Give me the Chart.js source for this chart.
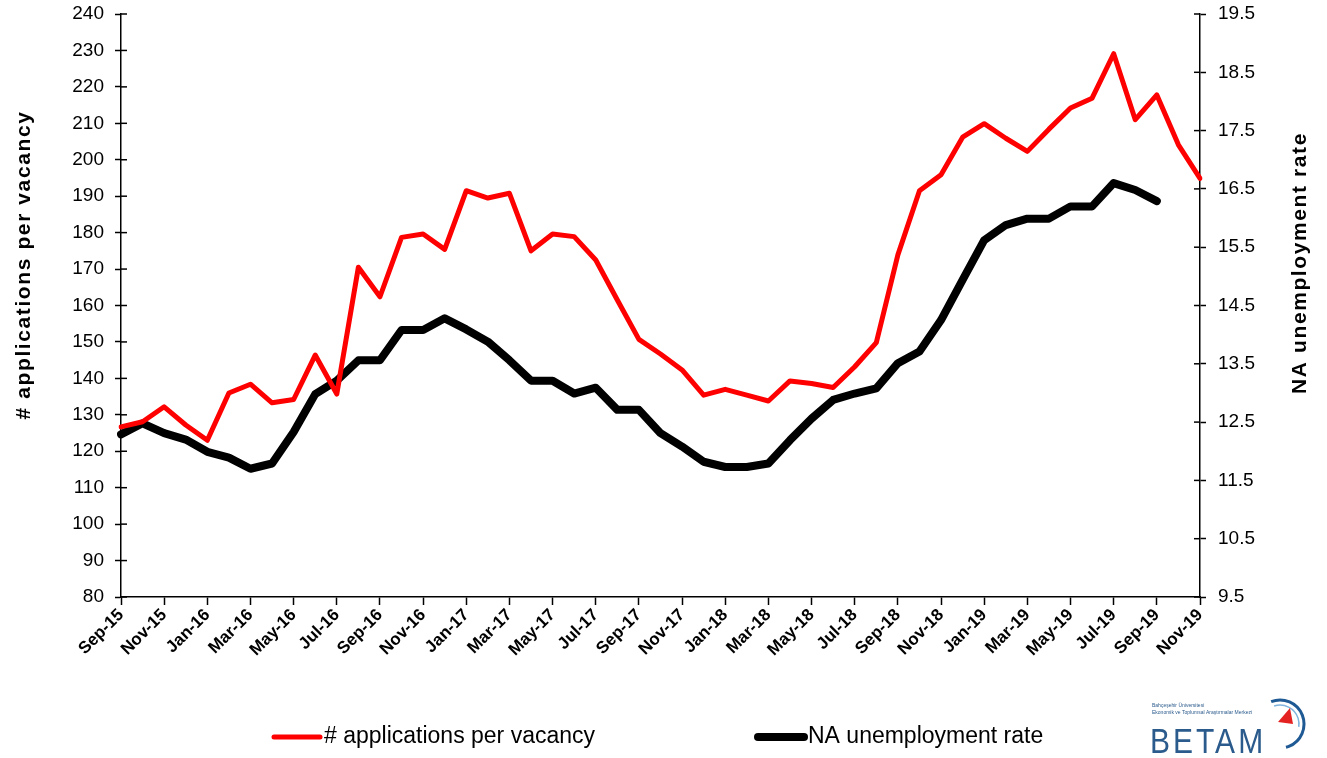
<!DOCTYPE html>
<html>
<head>
<meta charset="utf-8">
<script src="https://cdn.jsdelivr.net/npm/chart.js@4.4.0/dist/chart.umd.min.js"></script>
<style>
    html, body { margin: 0; padding: 0; background: #fff; }
    canvas { display: block; }
</style>
</head>
<body>
<canvas id="chart" width="1327" height="758"></canvas>
<script>
// Applications per vacancy vs NA unemployment rate, Sep-15 .. Nov-19

const months = [
    'Sep-15', 'Oct-15', 'Nov-15', 'Dec-15',
    'Jan-16', 'Feb-16', 'Mar-16', 'Apr-16', 'May-16', 'Jun-16', 'Jul-16', 'Aug-16', 'Sep-16', 'Oct-16', 'Nov-16', 'Dec-16',
    'Jan-17', 'Feb-17', 'Mar-17', 'Apr-17', 'May-17', 'Jun-17', 'Jul-17', 'Aug-17', 'Sep-17', 'Oct-17', 'Nov-17', 'Dec-17',
    'Jan-18', 'Feb-18', 'Mar-18', 'Apr-18', 'May-18', 'Jun-18', 'Jul-18', 'Aug-18', 'Sep-18', 'Oct-18', 'Nov-18', 'Dec-18',
    'Jan-19', 'Feb-19', 'Mar-19', 'Apr-19', 'May-19', 'Jun-19', 'Jul-19', 'Aug-19', 'Sep-19', 'Oct-19', 'Nov-19'
];

const applications = [
    126.7, 128.1, 132.2, 127.2, 123.0, 136.0, 138.4, 133.3, 134.2, 146.4,
    135.7, 170.5, 162.4, 178.7, 179.6, 175.4, 191.5, 189.5, 190.8, 175.0,
    179.6, 178.9, 172.5, 161.5, 150.7, 146.7, 142.3, 135.4, 137.0, 135.4,
    133.8, 139.3, 138.6, 137.5, 143.2, 149.8, 173.9, 191.5, 195.9, 206.2,
    209.9, 205.9, 202.3, 208.4, 214.2, 216.9, 229.1, 211.0, 217.8, 204.1,
    194.9
];

const unemployment = [
    12.29, 12.48, 12.31, 12.2, 11.99, 11.89, 11.7, 11.79, 12.33, 12.98,
    13.21, 13.56, 13.56, 14.08, 14.08, 14.28, 14.09, 13.88, 13.56, 13.21,
    13.21, 12.99, 13.09, 12.71, 12.71, 12.31, 12.08, 11.82, 11.73, 11.73,
    11.79, 12.19, 12.56, 12.88, 12.99, 13.08, 13.51, 13.71, 14.25, 14.94,
    15.62, 15.88, 15.99, 15.99, 16.2, 16.2, 16.6, 16.48, 16.29, null,
    null
];

const seriesNames = ['# applications per vacancy', 'NA unemployment rate'];
const leftTitle = '# applications per vacancy';
const rightTitle = 'NA unemployment rate';

const FONT = "'Liberation Sans', Arial, sans-serif";

// extra drawing: inner tick marks, axis titles, legend, logo
const extrasPlugin = {
    id: 'extras',
    afterDraw(chart) {
        const ctx = chart.ctx;
        const yL = chart.scales.y;
        const yR = chart.scales.y1;
        const area = chart.chartArea;

        ctx.save();
        ctx.strokeStyle = '#000';
        ctx.lineWidth = 1.5;
        yL.ticks.forEach(t => {
            const py = yL.getPixelForValue(t.value);
            ctx.beginPath();
            ctx.moveTo(area.left, py);
            ctx.lineTo(area.left + 6, py);
            ctx.stroke();
        });
        yR.ticks.forEach(t => {
            const py = yR.getPixelForValue(t.value);
            ctx.beginPath();
            ctx.moveTo(area.right - 6, py);
            ctx.lineTo(area.right, py);
            ctx.stroke();
        });

        // axis titles, both reading bottom to top
        ctx.fillStyle = '#000';
        ctx.font = 'bold 21px ' + FONT;
        ctx.letterSpacing = '1.6px';
        ctx.textAlign = 'center';
        ctx.textBaseline = 'middle';
        ctx.save();
        ctx.translate(24, 265);
        ctx.rotate(-Math.PI / 2);
        ctx.fillText(leftTitle, 0, 0);
        ctx.restore();
        ctx.save();
        ctx.translate(1300, 263);
        ctx.rotate(-Math.PI / 2);
        ctx.fillText(rightTitle, 0, 0);
        ctx.restore();
        ctx.letterSpacing = '0px';

        // legend
        const legendY = 737;
        const items = [
            { x: 271, color: '#ff0000', width: 5, text: seriesNames[0] },
            { x: 755, color: '#000000', width: 8, text: seriesNames[1] }
        ];
        items.forEach(item => {
            ctx.strokeStyle = item.color;
            ctx.lineWidth = item.width;
            ctx.lineCap = 'round';
            ctx.beginPath();
            ctx.moveTo(item.x + 3, legendY);
            ctx.lineTo(item.x + 49, legendY);
            ctx.stroke();
            ctx.fillStyle = '#000';
            ctx.font = '23px ' + FONT;
            ctx.textAlign = 'left';
            ctx.textBaseline = 'middle';
            ctx.fillText(item.text, item.x + 53, legendY);
        });

        // BETAM logo
        ctx.fillStyle = '#2b5b8c';
        ctx.font = '5px ' + FONT;
        ctx.textAlign = 'left';
        ctx.textBaseline = 'alphabetic';
        ctx.fillText('Bahçeşehir Üniversitesi', 1152, 707);
        ctx.fillText('Ekonomik ve Toplumsal Araştırmalar Merkezi', 1152, 714);
        ctx.save();
        ctx.translate(1150, 753);
        ctx.scale(1.0, 1.15);
        ctx.font = '30px ' + FONT;
        ctx.letterSpacing = '3px';
        ctx.fillText('BETAM', 0, 0);
        ctx.restore();
        ctx.lineCap = 'butt';
        ctx.strokeStyle = '#1f5a94';
        ctx.lineWidth = 3;
        ctx.beginPath();
        ctx.arc(1280, 724, 24, -Math.PI * 0.62, Math.PI * 0.42);
        ctx.stroke();
        ctx.strokeStyle = '#7fb3dd';
        ctx.lineWidth = 1.5;
        ctx.beginPath();
        ctx.arc(1280, 724, 19, -Math.PI * 0.6, Math.PI * 0.05);
        ctx.stroke();
        ctx.fillStyle = '#e52222';
        ctx.beginPath();
        ctx.moveTo(1278, 722);
        ctx.lineTo(1290, 708);
        ctx.lineTo(1293, 724);
        ctx.closePath();
        ctx.fill();
        ctx.restore();
    }
};

function fitVertical(width) {
    return function(scale) {
        scale.width = width;
        scale.paddingTop = 0;
        scale.paddingBottom = 0;
    };
}

function createChart() {
    const ctx = document.getElementById('chart').getContext('2d');
    return new Chart(ctx, {
        type: 'line',
        data: {
            labels: months,
            datasets: [{
                label: seriesNames[0],
                data: applications,
                yAxisID: 'y',
                borderColor: '#ff0000',
                borderWidth: 5,
                pointRadius: 0,
                tension: 0,
                borderJoinStyle: 'round',
                borderCapStyle: 'round'
            }, {
                label: seriesNames[1],
                data: unemployment,
                yAxisID: 'y1',
                borderColor: '#000000',
                borderWidth: 8,
                pointRadius: 0,
                tension: 0,
                borderJoinStyle: 'round',
                borderCapStyle: 'round'
            }]
        },
        options: {
            responsive: false,
            animation: false,
            layout: {
                padding: { top: 14, left: 0, right: 0, bottom: 0 }
            },
            plugins: {
                legend: { display: false },
                tooltip: { enabled: false }
            },
            scales: {
                x: {
                    type: 'category',
                    offset: false,
                    grid: {
                        drawOnChartArea: false,
                        tickLength: 8,
                        tickWidth: 1.5,
                        tickColor: function(c) {
                            return c.index % 2 === 0 ? '#000' : 'rgba(0,0,0,0)';
                        }
                    },
                    border: { color: '#000', width: 1.5 },
                    ticks: {
                        autoSkip: false,
                        maxRotation: 45,
                        minRotation: 45,
                        padding: 0,
                        color: '#000',
                        font: { family: FONT, size: 17, weight: 'bold' },
                        callback: function(value, index) {
                            return index % 2 === 0 ? months[index] : '';
                        }
                    },
                    afterFit: function(scale) { scale.height = 161; }
                },
                y: {
                    position: 'left',
                    min: 80,
                    max: 240,
                    grid: {
                        drawOnChartArea: false,
                        tickLength: 6,
                        tickWidth: 1.5,
                        tickColor: '#000'
                    },
                    border: { color: '#000', width: 1.5 },
                    ticks: {
                        stepSize: 10,
                        padding: 11,
                        color: '#000',
                        font: { family: FONT, size: 19 }
                    },
                    afterFit: fitVertical(121)
                },
                y1: {
                    position: 'right',
                    min: 9.5,
                    max: 19.5,
                    grid: {
                        drawOnChartArea: false,
                        tickLength: 6,
                        tickWidth: 1.5,
                        tickColor: '#000'
                    },
                    border: { color: '#000', width: 1.5 },
                    ticks: {
                        stepSize: 1,
                        padding: 12,
                        color: '#000',
                        font: { family: FONT, size: 19 },
                        callback: function(value) { return value.toFixed(1); }
                    },
                    afterFit: fitVertical(127)
                }
            }
        },
        plugins: [extrasPlugin]
    });
}

createChart();
</script>
</body>
</html>
